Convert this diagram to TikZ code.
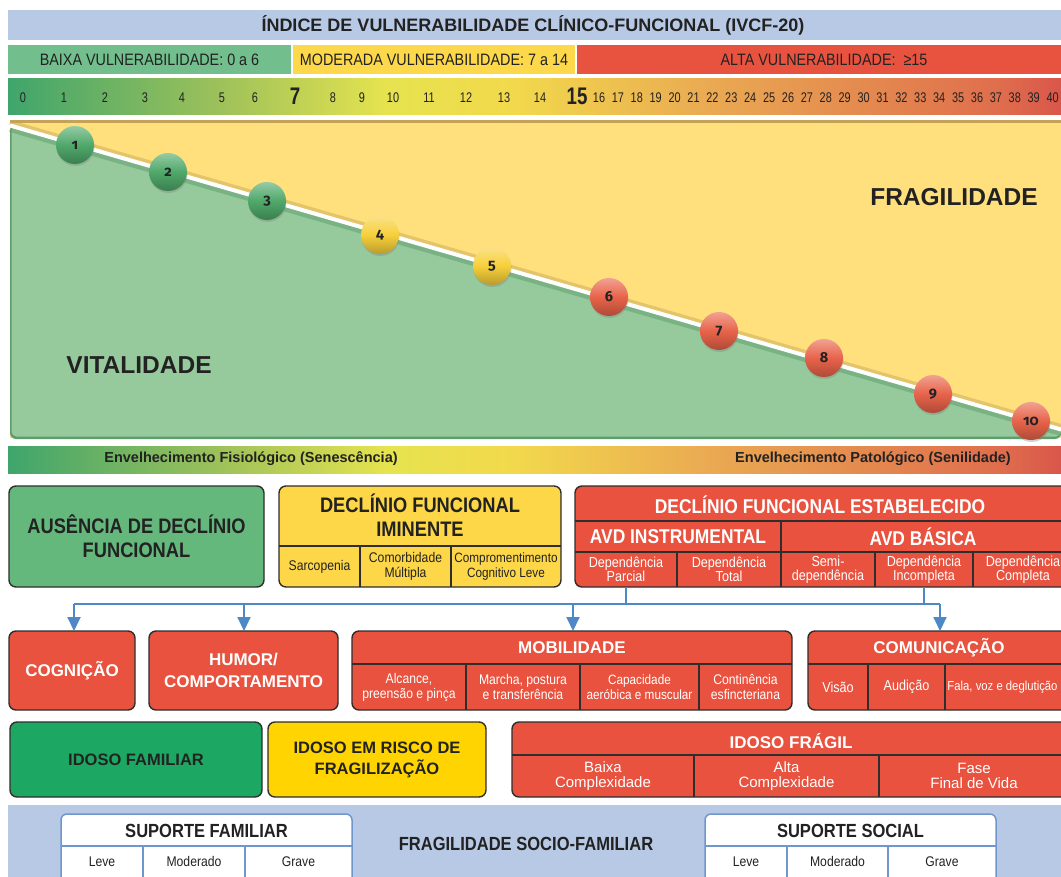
\documentclass[tikz,border=0pt]{standalone}
\usepackage{fontspec}
\setmainfont{Liberation Sans}
\newfontfamily\condfont{Liberation Sans}[FakeStretch=0.87]
\newfontfamily\narrowfont{Liberation Sans}[FakeStretch=0.78]
\newfontfamily\ballfont{Fira Sans}[Numbers=OldStyle]
\usetikzlibrary{arrows.meta,shadows}

\definecolor{escuro}{HTML}{222222}
\definecolor{azulfaixa}{HTML}{B7C9E5}
\definecolor{verdebaixa}{HTML}{72BE8D}
\definecolor{amarelomod}{HTML}{FDD84B}
\definecolor{vermelhoalta}{HTML}{E8533F}
\definecolor{esc0}{HTML}{3FA56C}
\definecolor{esc1}{HTML}{9DC15A}
\definecolor{esc2}{HTML}{E6E34F}
\definecolor{esc3}{HTML}{F2D94C}
\definecolor{esc4}{HTML}{EAAB52}
\definecolor{esc5}{HTML}{DF6E4D}
\definecolor{esc6}{HTML}{D9564A}
\definecolor{amarelopainel}{HTML}{FFE07C}
\definecolor{verdepainel}{HTML}{96CA9C}
\definecolor{verdeborda}{HTML}{5E9E6E}
\definecolor{ocre}{HTML}{C4A257}
\definecolor{bolaverde}{HTML}{4FA86A}
\definecolor{bolaamarela}{HTML}{F7CF3A}
\definecolor{bolavermelha}{HTML}{E8634A}
\definecolor{verdeausencia}{HTML}{64B87C}
\definecolor{amareloiminente}{HTML}{FDD747}
\definecolor{vermelho}{HTML}{E8523E}
\definecolor{contorno}{HTML}{2E2E2E}
\definecolor{azulseta}{HTML}{4F88C6}
\definecolor{verdefamiliar}{HTML}{1CA862}
\definecolor{amarelorisco}{HTML}{FFD400}
\definecolor{azulborda}{HTML}{6F97CB}

\pgfdeclarehorizontalshading{escala}{100bp}{color(0bp)=(esc0); color(25bp)=(esc0); color(35bp)=(esc1); color(43bp)=(esc2); color(49bp)=(esc3); color(58bp)=(esc4); color(72bp)=(esc5); color(75bp)=(esc6); color(100bp)=(esc6)}

\tikzset{
  wh/.style 2 args={minimum width=#1pt, minimum height=#2pt},
  titulo/.style={font=\bfseries\fontsize{18}{20}\selectfont, text=escuro},
  rotulo/.style={anchor=north west, inner sep=0pt, outer sep=0pt, font=\condfont\fontsize{16.5}{18}\selectfont, text=escuro},
  num/.style={font=\narrowfont\fontsize{14}{16}\selectfont, text=escuro, inner sep=0pt},
  numgrande/.style={font=\narrowfont\bfseries\fontsize{24}{26}\selectfont, text=escuro, inner sep=0pt},
  bola/.style={circle, minimum size=38pt, inner sep=0pt, font=\ballfont\bfseries\fontsize{14.5}{14.5}\selectfont, text=escuro, drop shadow={opacity=.35, shadow xshift=.5pt, shadow yshift=-2pt}},
  painel/.style={font=\bfseries\fontsize{24.5}{26}\selectfont, text=escuro},
  envelhec/.style={font=\bfseries\fontsize{14.5}{16}\selectfont, text=escuro},
  caixa/.style={draw=contorno, line width=1.4pt, rounded corners=7pt, anchor=north west, inner sep=0pt, outer sep=0pt, align=center},
  celula/.style={anchor=north west, inner sep=0pt, outer sep=0pt, align=center, text=white, font=\condfont\fontsize{14.5}{14.5}\selectfont},
  divisor/.style={draw=contorno, line width=1.4pt},
  grande/.style={font=\condfont\bfseries\fontsize{21}{24}\selectfont, align=center, text=escuro},
  cabeca/.style={font=\condfont\bfseries\fontsize{20}{22}\selectfont, text=white},
  dominio/.style={font=\bfseries\fontsize{17}{22}\selectfont, text=white, align=center},
  perfil/.style={font=\bfseries\fontsize{16.5}{21}\selectfont, text=escuro, align=center},
  fluxo/.style={draw=azulseta, line width=2pt},
  seta/.style={fluxo, -{Triangle[length=14pt,width=13pt]}},
  suporte/.style={draw=azulborda, line width=1.5pt, fill=white, rounded corners=6pt, anchor=north west, inner sep=0pt, outer sep=0pt},
  suptexto/.style={font=\condfont\bfseries\fontsize{19}{20}\selectfont, text=escuro},
  grau/.style={anchor=north west, inner sep=0pt, outer sep=0pt, font=\condfont\fontsize{14}{16}\selectfont, text=escuro},
  divazul/.style={draw=azulborda, line width=1.5pt}
}

\begin{document}
\begin{tikzpicture}[x=1pt, y=-1pt]
  \useasboundingbox (0,0) rectangle (1061,877);
  \clip (0,0) rectangle (1061,877);
  \fill[white] (0,0) rectangle (1061,877);

  \fill[azulfaixa] (8,10) rectangle (1061,40);
  \node[titulo] (indice) at (533,25) {ÍNDICE DE VULNERABILIDADE CLÍNICO-FUNCIONAL (IVCF-20)};

  \node[rotulo, fill=verdebaixa, wh={283}{29}] (baixa) at (8,45) {BAIXA VULNERABILIDADE: 0 a 6};
  \node[rotulo, fill=amarelomod, wh={282}{29}] (moderada) at (293,45) {MODERADA VULNERABILIDADE: 7 a 14};
  \node[rotulo, fill=vermelhoalta, wh={494}{29}] (alta) at (577,45) {ALTA VULNERABILIDADE:\ \ ≥15};

  \shade[shading=escala] (8,79) rectangle (1061,115);
  \foreach \n/\x in {0/23,1/64,2/105,3/145,4/182,5/222,6/255,8/333,9/362,10/393,11/429,12/466,13/504,14/540}
    \node[num] (n\n) at (\x,98) {\n};
  \node[numgrande] (n7) at (295,96) {7};
  \node[numgrande] (n15) at (577,96) {15};
  \foreach \n in {16,...,40}
    \node[num] (n\n) at ({599+(\n-16)*18.9},98) {\n};

  \fill[amarelopainel] (10,120) rectangle (1061,438);
  \draw[ocre, line width=2.5pt] (10,121.5) -- (1061,121.5);
  \coordinate (lini) at (10,125.5);
  \coordinate (lfim) at (1061,429.5);
  \fill[verdeborda, rounded corners=6pt] (lini) -- (lfim) -- (1061,439) -- (10,439) -- cycle;
  \fill[verdepainel, rounded corners=5pt] ([xshift=1.5pt]lini) -- (lfim) -- (1061,436.5) -- (11.5,436.5) -- cycle;
  \draw[ocre, opacity=.45, line width=5pt] ([yshift=3pt]lini) -- ([yshift=3pt]lfim);
  \draw[verdeborda, opacity=.5, line width=6pt] ([yshift=-3.5pt]lini) -- ([yshift=-3.5pt]lfim);
  \draw[white, line width=4pt] (lini) -- (lfim);
  \foreach \n/\x/\y/\c in {1/75/145/bolaverde,2/168/172/bolaverde,3/267/201/bolaverde,4/380/235/bolaamarela,5/492/266/bolaamarela,6/609/297/bolavermelha,7/719/331/bolavermelha,8/824/358/bolavermelha,9/933/394/bolavermelha,10/1031/421/bolavermelha}
    \node[bola, top color=\c!60!white, bottom color=\c!75!black, middle color=\c] (b\n) at (\x,\y) {\n};
  \node[painel] (fragilidade) at (954,197) {FRAGILIDADE};
  \node[painel] (vitalidade) at (139,365) {VITALIDADE};

  \shade[shading=escala] (8,446) rectangle (1061,473);
  \node[envelhec] (senescencia) at (251,459) {Envelhecimento Fisiológico (Senescência)};
  \node[envelhec] (senilidade) at (873,459) {Envelhecimento Patológico (Senilidade)};

  \node[caixa, fill=verdeausencia, wh={255}{101}, grande] (ausencia) at (9,486) {AUSÊNCIA DE DECLÍNIO\\FUNCIONAL};

  \node[caixa, fill=amareloiminente, wh={282}{101}] (iminente) at (279,486) {};
  \node[grande] (iminentetit) at (420,515) {DECLÍNIO FUNCIONAL\\IMINENTE};
  \node[celula, text=escuro, font=\condfont\fontsize{14}{15}\selectfont, wh={81}{41}] (sarcopenia) at (279,546) {Sarcopenia};
  \node[celula, text=escuro, font=\condfont\fontsize{14}{15}\selectfont, wh={91}{41}] (multipla) at (360,546) {Comorbidade\\Múltipla};
  \node[celula, text=escuro, font=\condfont\fontsize{13.5}{15}\selectfont, wh={110}{41}] (cognitivo) at (451,546) {Compromentimento\\Cognitivo Leve};
  \draw[divisor] (sarcopenia.north west) -- (cognitivo.north east);
  \draw[divisor] (sarcopenia.north east) -- (sarcopenia.south east);
  \draw[divisor] (multipla.north east) -- (multipla.south east);

  \node[caixa, fill=vermelho, wh={500}{101}] (estabelecido) at (575,486) {};
  \node[cabeca] (estabelecidotit) at (820,505) {DECLÍNIO FUNCIONAL ESTABELECIDO};
  \node[celula, cabeca, wh={206}{31}] (instrumental) at (575,521) {AVD INSTRUMENTAL};
  \node[celula, cabeca, wh={284}{31}] (basica) at (781,521) {AVD BÁSICA};
  \node[celula, wh={102}{35}] (parcial) at (575,552) {Dependência\\Parcial};
  \node[celula, wh={104}{35}] (total) at (677,552) {Dependência\\Total};
  \node[celula, wh={94}{35}] (semi) at (781,552) {Semi-\\dependência};
  \node[celula, wh={98}{35}] (incompleta) at (875,552) {Dependência\\Incompleta};
  \node[celula, wh={100}{35}] (completa) at (973,552) {Dependência\\Completa};
  \draw[divisor] (instrumental.north west) -- (basica.north east);
  \draw[divisor] (parcial.north west) -- (completa.north east);
  \draw[divisor] (instrumental.north east) -- (total.south east);
  \draw[divisor] (parcial.north east) -- (parcial.south east);
  \draw[divisor] (semi.north east) -- (semi.south east);
  \draw[divisor] (incompleta.north east) -- (incompleta.south east);

  \node[caixa, fill=vermelho, wh={126}{79}, dominio] (cognicao) at (9,631) {COGNIÇÃO};
  \node[caixa, fill=vermelho, wh={189}{79}, dominio] (humor) at (149,631) {HUMOR/\\COMPORTAMENTO};
  \node[caixa, fill=vermelho, wh={440}{79}] (mobilidade) at (352,631) {};
  \node[dominio] (mobilidadetit) at (572,648) {MOBILIDADE};
  \node[celula, font=\condfont\fontsize{14}{15}\selectfont, wh={114}{46}] (alcance) at (352,664) {Alcance,\\preensão e pinça};
  \node[celula, font=\condfont\fontsize{14}{15}\selectfont, wh={114}{46}] (marcha) at (466,664) {Marcha, postura\\e transferência};
  \node[celula, font=\condfont\fontsize{13.5}{15}\selectfont, wh={119}{46}] (aerobica) at (580,664) {Capacidade\\aeróbica e muscular};
  \node[celula, font=\condfont\fontsize{14}{15}\selectfont, wh={93}{46}] (continencia) at (699,664) {Continência\\esfincteriana};
  \draw[divisor] (alcance.north west) -- (continencia.north east);
  \draw[divisor] (alcance.north east) -- (alcance.south east);
  \draw[divisor] (marcha.north east) -- (marcha.south east);
  \draw[divisor] (aerobica.north east) -- (aerobica.south east);
  \node[caixa, fill=vermelho, wh={270}{79}] (comunicacao) at (808,631) {};
  \node[dominio] (comunicacaotit) at (939,648) {COMUNICAÇÃO};
  \node[celula, wh={60}{46}] (visao) at (808,664) {Visão};
  \node[celula, wh={77}{46}] (audicao) at (868,664) {Audição};
  \node[celula, font=\condfont\fontsize{13}{14}\selectfont, wh={115}{46}] (fala) at (945,664) {Fala, voz e deglutição};
  \draw[divisor] (visao.north west) -- (comunicacao.north east |- visao.north);
  \draw[divisor] (visao.north east) -- (visao.south east);
  \draw[divisor] (audicao.north east) -- (audicao.south east);

  \coordinate (jesq) at (74,604);
  \coordinate (jhum) at (244,604);
  \coordinate (jmob) at (573,604);
  \coordinate (jdir) at (940,604);
  \draw (parcial.south) edge[fluxo] (parcial.south |- jesq);
  \draw (incompleta.south) edge[fluxo] (incompleta.south |- jesq);
  \draw (jesq) edge[fluxo] (jdir);
  \draw (jesq) edge[seta] (jesq |- cognicao.north);
  \draw (jhum) edge[seta] (jhum |- humor.north);
  \draw (jmob) edge[seta] (jmob |- mobilidade.north);
  \draw (jdir) edge[seta] (jdir |- comunicacao.north);

  \node[caixa, fill=verdefamiliar, wh={252}{75}, perfil] (familiar) at (10,722) {IDOSO FAMILIAR};
  \node[caixa, fill=amarelorisco, wh={218}{75}, perfil] (risco) at (268,722) {IDOSO EM RISCO DE\\FRAGILIZAÇÃO};
  \node[caixa, fill=vermelho, wh={560}{75}] (fragil) at (512,722) {};
  \node[dominio] (fragiltit) at (791,741) {IDOSO FRÁGIL};
  \node[celula, font=\fontsize{15}{15}\selectfont, wh={182}{42}] (baixacomp) at (512,755) {Baixa\\Complexidade};
  \node[celula, font=\fontsize{15}{15}\selectfont, wh={185}{42}] (altacomp) at (694,755) {Alta\\Complexidade};
  \node[celula, font=\fontsize{15}{15}\selectfont, wh={190}{42}] (finalvida) at (879,755) {Fase\\Final de Vida};
  \draw[divisor] (baixacomp.north west) -- (finalvida.north east);
  \draw[divisor] (baixacomp.north east) -- (baixacomp.south east);
  \draw[divisor] (altacomp.north east) -- (altacomp.south east);

  \fill[azulfaixa] (8,805) rectangle (1061,877);
  \node[suporte, wh={291}{72}] (supfam) at (61,814) {};
  \node[suptexto] (supfamtit) at (206.5,831) {SUPORTE FAMILIAR};
  \node[grau, wh={82}{31}] (famleve) at (61,846) {Leve};
  \node[grau, wh={102}{31}] (fammod) at (143,846) {Moderado};
  \node[grau, wh={107}{31}] (famgrave) at (245,846) {Grave};
  \draw[divazul] (famleve.north west) -- (famgrave.north east);
  \draw[divazul] (famleve.north east) -- (famleve.south east);
  \draw[divazul] (fammod.north east) -- (fammod.south east);
  \node[suptexto] (sociofam) at (526,844) {FRAGILIDADE SOCIO-FAMILIAR};
  \node[suporte, wh={291}{72}] (supsoc) at (705,814) {};
  \node[suptexto] (supsoctit) at (850.5,831) {SUPORTE SOCIAL};
  \node[grau, wh={82}{31}] (socleve) at (705,846) {Leve};
  \node[grau, wh={101}{31}] (socmod) at (787,846) {Moderado};
  \node[grau, wh={108}{31}] (socgrave) at (888,846) {Grave};
  \draw[divazul] (socleve.north west) -- (socgrave.north east);
  \draw[divazul] (socleve.north east) -- (socleve.south east);
  \draw[divazul] (socmod.north east) -- (socmod.south east);
\end{tikzpicture}
\end{document}
